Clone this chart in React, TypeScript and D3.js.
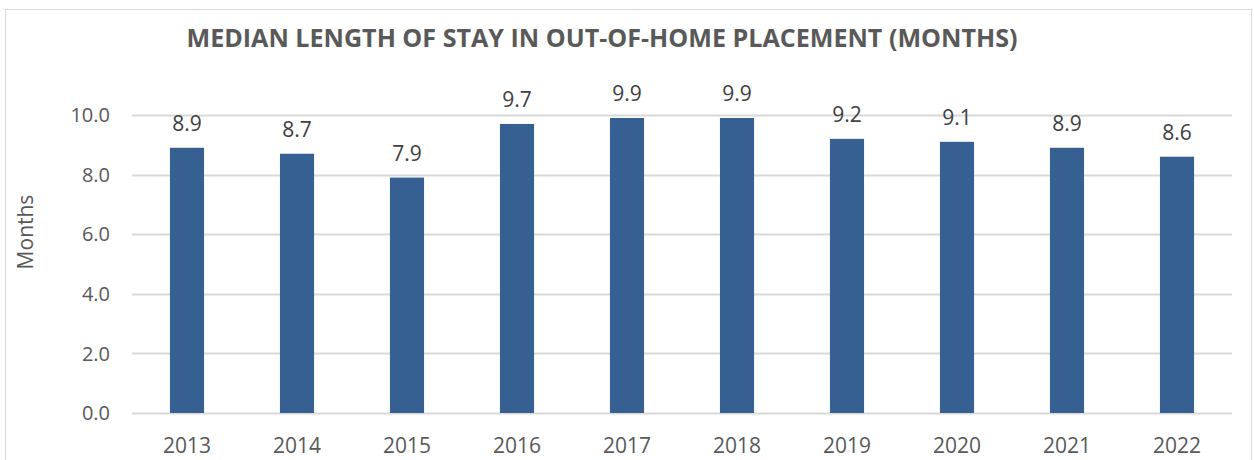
import { useEffect, useRef } from "react";
import * as d3 from "d3";

const years = ["2013", "2014", "2015", "2016", "2017", "2018", "2019", "2020", "2021", "2022"];
const medianMonths = [8.9, 8.7, 7.9, 9.7, 9.9, 9.9, 9.2, 9.1, 8.9, 8.6];
const yTicks = [0, 2, 4, 6, 8, 10];

const FONT = "'Open Sans', 'Noto Sans', sans-serif";

export default function App() {
  const svgRef = useRef<SVGSVGElement>(null);
  const width = 1254;
  const height = 460;

  useEffect(() => {
    if (!svgRef.current) return;
    const svg = d3.select(svgRef.current);
    svg.selectAll("*").remove();

    const margin = { top: 115, right: 22, bottom: 47, left: 132 };
    const innerWidth = width - margin.left - margin.right;
    const innerHeight = height - margin.top - margin.bottom;

    // chart frame
    svg
      .append("rect")
      .attr("x", 5.5)
      .attr("y", 9.5)
      .attr("width", 1246)
      .attr("height", 460)
      .attr("fill", "#fff")
      .attr("stroke", "#d9d9d9");

    const x = d3.scaleBand<string>().domain(years).range([0, innerWidth]).paddingInner(0.69).paddingOuter(0.345);
    const y = d3.scaleLinear().domain([0, 10]).range([innerHeight, 0]);

    const g = svg.append("g").attr("transform", `translate(${margin.left},${margin.top})`);

    // gridlines
    g.append("g")
      .selectAll("line")
      .data(yTicks)
      .join("line")
      .attr("x1", 0)
      .attr("x2", innerWidth)
      .attr("y1", (d) => Math.round(y(d)) + 0.5)
      .attr("y2", (d) => Math.round(y(d)) + 0.5)
      .attr("stroke", "#d9d9d9")
      .attr("stroke-width", 2);

    // y tick labels
    g.append("g")
      .selectAll("text")
      .data(yTicks)
      .join("text")
      .attr("x", -22)
      .attr("y", (d) => y(d))
      .attr("dy", "0.36em")
      .attr("text-anchor", "end")
      .style("font-family", FONT)
      .style("font-size", "20px")
      .style("fill", "#595959")
      .text((d) => d.toFixed(1));

    // bars
    g.selectAll("rect.bar")
      .data(years)
      .join("rect")
      .attr("class", "bar")
      .attr("x", (d) => x(d) || 0)
      .attr("y", (d, i) => y(medianMonths[i]))
      .attr("width", x.bandwidth())
      .attr("height", (d, i) => innerHeight - y(medianMonths[i]))
      .attr("fill", "#366092");

    // value labels
    g.selectAll("text.val")
      .data(years)
      .join("text")
      .attr("class", "val")
      .attr("x", (d) => (x(d) || 0) + x.bandwidth() / 2)
      .attr("y", (d, i) => y(medianMonths[i]) - 17)
      .attr("text-anchor", "middle")
      .style("font-family", FONT)
      .style("font-size", "21px")
      .style("fill", "#404040")
      .text((d, i) => medianMonths[i].toFixed(1));

    // x labels
    g.selectAll("text.year")
      .data(years)
      .join("text")
      .attr("class", "year")
      .attr("x", (d) => (x(d) || 0) + x.bandwidth() / 2)
      .attr("y", innerHeight + 40)
      .attr("text-anchor", "middle")
      .style("font-family", FONT)
      .style("font-size", "21px")
      .style("fill", "#595959")
      .text((d) => d);

    // y axis title
    svg
      .append("text")
      .attr("transform", `translate(33,232) rotate(-90)`)
      .attr("text-anchor", "middle")
      .style("font-family", FONT)
      .style("font-size", "21px")
      .style("fill", "#595959")
      .text("Months");

    // title
    svg
      .append("text")
      .attr("x", 602)
      .attr("y", 47)
      .attr("text-anchor", "middle")
      .attr("textLength", 831)
      .attr("lengthAdjust", "spacingAndGlyphs")
      .style("font-family", FONT)
      .style("font-size", "25px")
      .style("font-weight", "700")
      .style("fill", "#595959")
      .text("MEDIAN LENGTH OF STAY IN OUT-OF-HOME PLACEMENT (MONTHS)");
  }, []);

  return (
    <svg
      ref={svgRef}
      width={width}
      height={height}
      style={{ position: "absolute", left: 0, top: 0, background: "#fff" }}
    />
  );
}
